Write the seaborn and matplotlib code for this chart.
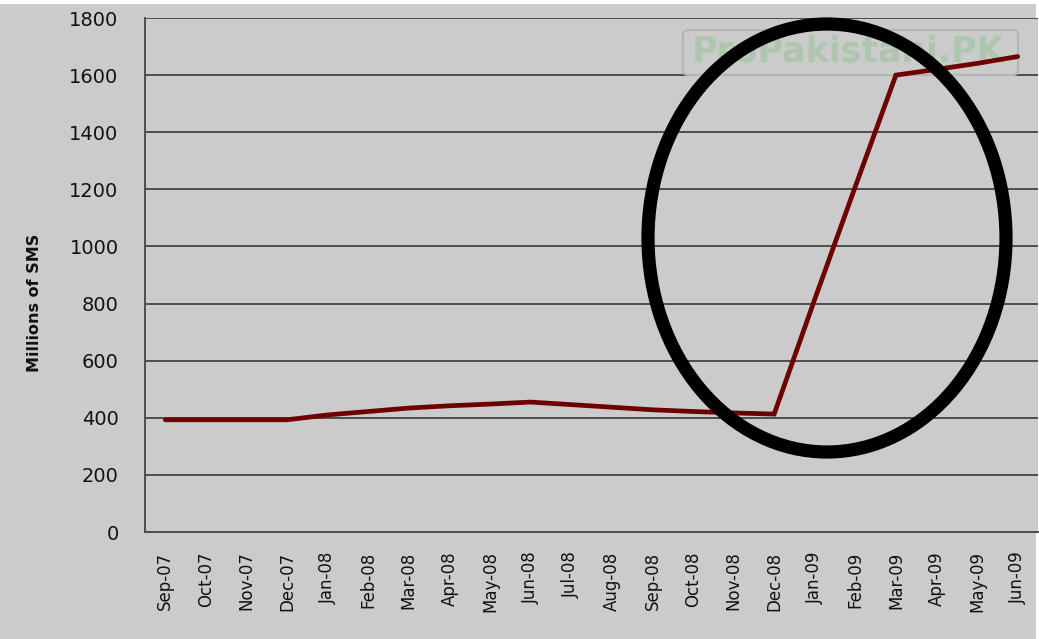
import matplotlib
matplotlib.use("Agg")
import matplotlib.pyplot as plt
from matplotlib.patches import Ellipse, Rectangle, FancyBboxPatch
import seaborn as sns
import pandas as pd

months = ["Sep-07", "Oct-07", "Nov-07", "Dec-07", "Jan-08", "Feb-08", "Mar-08",
          "Apr-08", "May-08", "Jun-08", "Jul-08", "Aug-08", "Sep-08", "Oct-08",
          "Nov-08", "Dec-08", "Jan-09", "Feb-09", "Mar-09", "Apr-09", "May-09", "Jun-09"]
sms_millions = [393, 393, 393, 393, 410, 422, 434, 442, 448, 455, 446, 437, 428, 422,
                417, 413, 815, 1210, 1600, 1620, 1641, 1665]
y_ticks = [0, 200, 400, 600, 800, 1000, 1200, 1400, 1600, 1800]

df = pd.DataFrame({"month": months, "sms": sms_millions})

sns.set_theme(style="white")
plt.rcParams["font.family"] = ["DejaVu Sans"]

bg = "#cbcbcb"
fig = plt.figure(figsize=(10.39, 6.39), dpi=100, facecolor=bg)
ax = fig.add_axes([145 / 1039, 1 - 532 / 639, (1038 - 145) / 1039, (532 - 18) / 639])
ax.set_facecolor(bg)

sns.lineplot(data=df, x="month", y="sms", ax=ax, sort=False,
             color="#6e0000", linewidth=3.4, solid_joinstyle="miter", zorder=3)

ax.set_xlim(-0.5, len(months) - 0.5)
ax.set_ylim(0, 1800)
ax.set_yticks(y_ticks)
ax.set_yticklabels([str(v) for v in y_ticks])
ax.set_xticks(range(len(months)))
ax.set_xticklabels(months, rotation=90)

ax.grid(axis="y", color="#4d4d4d", linewidth=1.4)
ax.grid(axis="x", visible=False)
ax.set_axisbelow(True)
for s in ["top", "right"]:
    ax.spines[s].set_visible(False)
for s in ["left", "bottom"]:
    ax.spines[s].set_color("#4d4d4d")
    ax.spines[s].set_linewidth(1.4)

ax.tick_params(axis="y", length=0, pad=19, labelsize=14, labelcolor="#111111")
ax.tick_params(axis="x", length=0, pad=14, labelsize=12, labelcolor="#111111")
ax.set_xlabel("")
ax.set_ylabel("")

fig.text(35 / 1039, 1 - 303 / 639, "Millions of SMS", rotation=90, ha="center",
         va="center", fontsize=11.5, fontweight="bold", color="#111111")

# watermark box (behind the line)
wm = FancyBboxPatch((683 / 1039, 1 - 75 / 639), (1018 - 683) / 1039, 45 / 639,
                    boxstyle="round,pad=0,rounding_size=0.006",
                    transform=fig.transFigure, facecolor="none",
                    edgecolor="#b5b5b5", linewidth=1.5, zorder=1.5)
ax.add_artist(wm)
ax.text(848 / 1039, 1 - 52 / 639, "ProPakistani.PK", transform=fig.transFigure,
        ha="center", va="center", fontsize=25, fontweight="bold",
        color="#a9c4a9", alpha=0.85, zorder=1.5)

# annotation ellipse
ell = Ellipse((827 / 1039, 1 - 238 / 639), 358 / 1039, 428 / 639,
              transform=fig.transFigure, fill=False, edgecolor="black",
              linewidth=9.5, zorder=5)
fig.add_artist(ell)

# white borders at top and right
fig.add_artist(Rectangle((0, 1 - 4 / 639), 1, 4 / 639, transform=fig.transFigure,
                         facecolor="white", edgecolor="none", zorder=0))
fig.add_artist(Rectangle((1 - 3 / 1039, 0), 3 / 1039, 1, transform=fig.transFigure,
                         facecolor="white", edgecolor="none", zorder=0))

fig.savefig("out.png", dpi=100, facecolor=bg)
